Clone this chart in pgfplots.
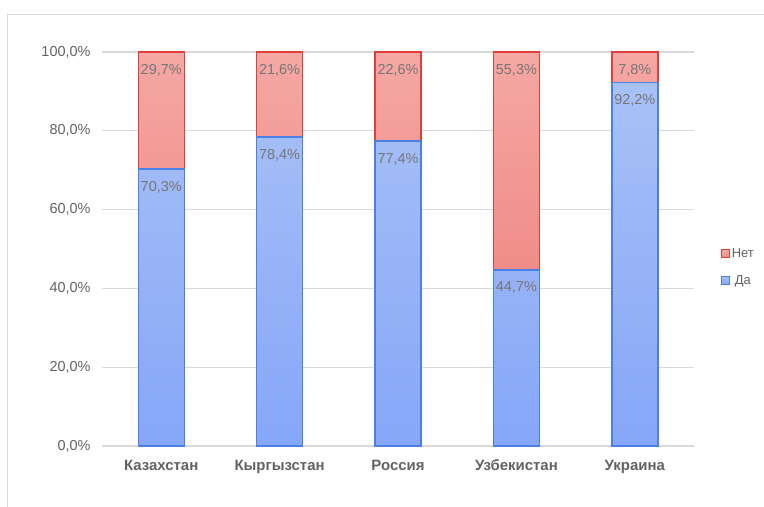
\documentclass[border=0pt]{standalone}
\usepackage{fontspec}
\setmainfont{Liberation Sans}
\usepackage{pgfplots}
\usepackage{pgfplotstable}
\pgfplotsset{compat=1.18}
\definecolor{gridc}{HTML}{D9D9D9}
\definecolor{labc}{HTML}{767676}
\definecolor{tickc}{HTML}{626262}
\definecolor{blueedge}{HTML}{4A7FE6}
\definecolor{bluetop}{HTML}{A8C1F6}
\definecolor{bluebot}{HTML}{86A6F8}
\definecolor{rededge}{HTML}{E0403C}
\definecolor{redtop}{HTML}{F5A8A4}
\definecolor{redbot}{HTML}{F08C88}
\pgfplotstableread{
x da net full
0 70.3 29.7 100
1 78.4 21.6 100
2 77.4 22.6 100
3 44.7 55.3 100
4 92.2 7.8 100
}\data
\pgfplotsset{
  mygeom/.style={
    at={(102bp,61bp)}, anchor=south west,
    scale only axis, width=592bp, height=394bp,
    xmin=-0.5, xmax=4.5, ymin=0, ymax=100,
    /pgf/number format/assume math mode=true,
  }
}
\begin{document}
\begin{tikzpicture}
\path[use as bounding box] (0bp,0bp) rectangle (764bp,507bp);
\draw[gridc, line width=1bp] (7bp,0bp) -- (7bp,492bp) -- (764bp,492bp);
\begin{axis}[
  mygeom,
  ybar stacked, bar width=46bp,
  xtick={0,1,2,3,4},
  xticklabels={Казахстан,Кыргызстан,Россия,Узбекистан,Украина},
  ytick={0,20,40,60,80,100},
  ymajorgrids, grid style={gridc, line width=1.3bp},
  axis line style={draw=none},
  major tick length=0pt,
  yticklabel={\pgfmathprintnumber[fixed,fixed zerofill,precision=1,use comma]{\tick}\%},
  yticklabel style={font=\fontsize{14.5}{16}\selectfont, text=tickc, xshift=-8bp},
  xticklabel style={font=\fontsize{15}{17}\selectfont\bfseries, text=tickc, anchor=base, yshift=-24.5bp},
  clip=false,
  reverse legend,
  legend style={at={(1.04,0.454)}, anchor=west, draw=none, fill=none, row sep=12bp,
    font=\fontsize{13}{15}\selectfont, text=tickc},
  legend image code/.code={\draw[#1, line width=1bp] (0bp,-4bp) rectangle (8bp,4bp);},
]
\addplot[draw=blueedge, line width=1.4bp, top color=bluetop, bottom color=bluebot] table[x=x, y=da] {\data};
\addlegendentry{Да}
\addplot[draw=rededge, line width=1.4bp, top color=redtop, bottom color=redbot] table[x=x, y=net] {\data};
\addlegendentry{Нет}
\end{axis}
\begin{axis}[
  mygeom, hide axis, clip=false,
  point meta=explicit,
  nodes near coords={\pgfmathprintnumber[fixed,fixed zerofill,precision=1,use comma]{\pgfplotspointmeta}\%},
  every node near coord/.append style={anchor=center, yshift=-18bp, font=\fontsize{14.5}{16}\selectfont, text=labc},
]
\addplot[draw=none, mark=none] table[x=x, y=da, meta=da] {\data};
\addplot[draw=none, mark=none] table[x=x, y=full, meta=net] {\data};
\end{axis}
\end{tikzpicture}
\end{document}
